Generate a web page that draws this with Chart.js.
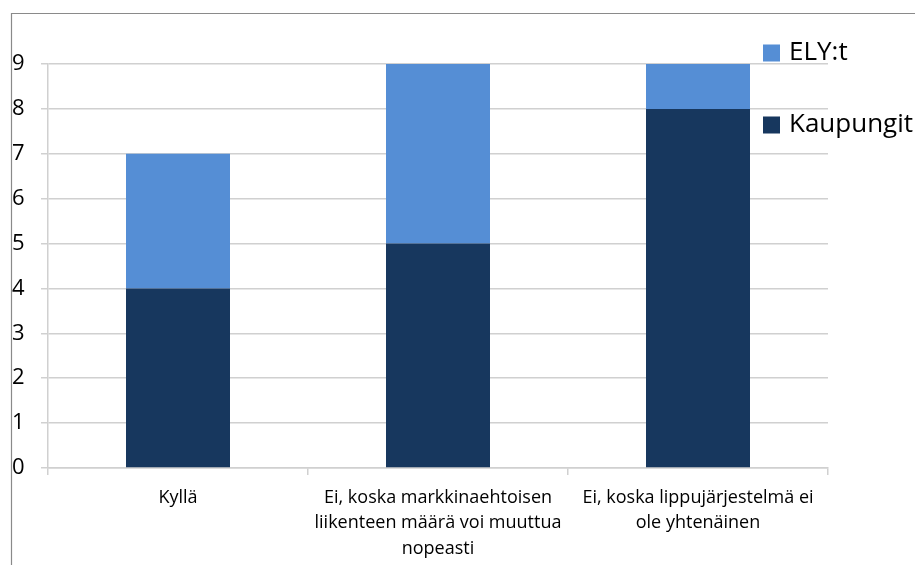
<!DOCTYPE html>
<html>
<head>
<meta charset="utf-8">
<script src="https://cdn.jsdelivr.net/npm/chart.js@4/dist/chart.umd.min.js"></script>
<style>
html,body{margin:0;padding:0;background:#fff;}
#wrap{width:915px;height:565px;position:relative;}
</style>
</head>
<body>
<div id="wrap"><canvas id="c" width="915" height="565"></canvas></div>
<script>
const categories = [
  ["Kyllä"],
  ["Ei, koska markkinaehtoisen", "liikenteen määrä voi muuttua", "nopeasti"],
  ["Ei, koska lippujärjestelmä ei", "ole yhtenäinen"]
];
const kaupungit = [4, 5, 8];
const elyt = [3, 4, 1];
const yTicks = [0, 1, 2, 3, 4, 5, 6, 7, 8, 9];
const seriesNames = ["Kaupungit", "ELY:t"];

const FONT = "'Open Sans', 'Noto Sans', sans-serif";

const framePlugin = {
  id: 'frame',
  beforeDraw(chart) {
    const ctx = chart.ctx;
    ctx.save();
    ctx.fillStyle = '#fff';
    ctx.fillRect(0, 0, chart.width, chart.height);
    ctx.strokeStyle = '#8a8a8a';
    ctx.lineWidth = 1.2;
    ctx.beginPath();
    ctx.moveTo(11.5, chart.height);
    ctx.lineTo(11.5, 13.5);
    ctx.lineTo(chart.width, 13.5);
    ctx.stroke();
    ctx.restore();
  }
};

const legendPlugin = {
  id: 'customLegend',
  afterDraw(chart) {
    const ctx = chart.ctx;
    const ds = chart.data.datasets;
    const items = [ds[1], ds[0]];
    const ys = [53, 125];
    ctx.save();
    ctx.font = "26px " + FONT;
    ctx.textBaseline = 'middle';
    ctx.textAlign = 'left';
    items.forEach((d, i) => {
      ctx.fillStyle = d.backgroundColor;
      ctx.fillRect(763, ys[i] - 8.5, 17, 17);
      ctx.fillStyle = '#000';
      ctx.fillText(d.label, 789, ys[i]);
    });
    ctx.restore();
  }
};

new Chart(document.getElementById('c'), {
  type: 'bar',
  data: {
    labels: categories,
    datasets: [
      { label: seriesNames[0], data: kaupungit, backgroundColor: '#17375e', categoryPercentage: 1, barPercentage: 0.4 },
      { label: seriesNames[1], data: elyt, backgroundColor: '#558ed5', categoryPercentage: 1, barPercentage: 0.4 }
    ]
  },
  options: {
    responsive: false,
    animation: false,
    devicePixelRatio: 1,
    layout: { padding: { left: 12, right: 87, top: 64, bottom: 0 } },
    plugins: { legend: { display: false }, tooltip: { enabled: false } },
    scales: {
      x: {
        stacked: true,
        offset: true,
        grid: { offset: true, drawOnChartArea: false, drawTicks: true, tickLength: 7, color: '#d0d0d0', lineWidth: 1.5 },
        border: { display: true, color: '#d0d0d0', width: 1.5 },
        ticks: { color: '#000', font: { family: FONT, size: 18, lineHeight: 1.42 }, maxRotation: 0, autoSkip: false, padding: 10 },
        afterFit(scale) { scale.height = 97; }
      },
      y: {
        stacked: true,
        min: 0,
        max: 9,
        afterBuildTicks(scale) { scale.ticks = yTicks.map(v => ({ value: v })); },
        grid: { color: '#d0d0d0', lineWidth: 1.5, tickLength: 7 },
        border: { display: true, color: '#d0d0d0', width: 1.5 },
        ticks: { color: '#000', font: { family: FONT, size: 22 }, crossAlign: 'far', padding: 4 },
        afterFit(scale) { scale.width = 36; }
      }
    }
  },
  plugins: [framePlugin, legendPlugin]
});
</script>
</body>
</html>
